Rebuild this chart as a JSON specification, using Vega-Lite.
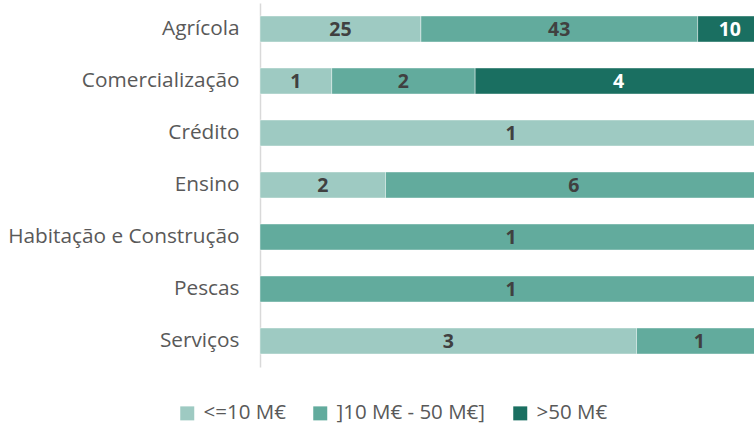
{
  "$schema": "https://vega.github.io/schema/vega-lite/v6.json",
  "width": 502,
  "height": 364,
  "autosize": {"type": "none"},
  "padding": {"left": 260, "top": 3, "right": 0, "bottom": 66},
  "background": "white",
  "config": {"view": {"stroke": null}, "font": "Open Sans"},
  "data": {
    "values": [
      {"sector": "Agrícola", "cls": "<=10 M€", "ord": 1, "n": 25},
      {"sector": "Agrícola", "cls": "]10 M€ - 50 M€]", "ord": 2, "n": 43},
      {"sector": "Agrícola", "cls": ">50 M€", "ord": 3, "n": 10},
      {"sector": "Comercialização", "cls": "<=10 M€", "ord": 1, "n": 1},
      {"sector": "Comercialização", "cls": "]10 M€ - 50 M€]", "ord": 2, "n": 2},
      {"sector": "Comercialização", "cls": ">50 M€", "ord": 3, "n": 4},
      {"sector": "Crédito", "cls": "<=10 M€", "ord": 1, "n": 1},
      {"sector": "Ensino", "cls": "<=10 M€", "ord": 1, "n": 2},
      {"sector": "Ensino", "cls": "]10 M€ - 50 M€]", "ord": 2, "n": 6},
      {"sector": "Habitação e Construção", "cls": "]10 M€ - 50 M€]", "ord": 2, "n": 1},
      {"sector": "Pescas", "cls": "]10 M€ - 50 M€]", "ord": 2, "n": 1},
      {"sector": "Serviços", "cls": "<=10 M€", "ord": 1, "n": 3},
      {"sector": "Serviços", "cls": "]10 M€ - 50 M€]", "ord": 2, "n": 1}
    ]
  },
  "transform": [
    {"stack": "n", "groupby": ["sector"], "sort": [{"field": "ord", "order": "ascending"}], "offset": "normalize", "as": ["x0", "x1"]},
    {"calculate": "(datum.x0 + datum.x1) / 2", "as": "xm"}
  ],
  "encoding": {
    "y": {
      "field": "sector", "type": "nominal",
      "sort": ["Agrícola", "Comercialização", "Crédito", "Ensino", "Habitação e Construção", "Pescas", "Serviços"],
      "scale": {"paddingInner": 0.5, "paddingOuter": 0.25},
      "axis": {"title": null, "ticks": false, "domainColor": "#d9d9d9", "domainWidth": 1.5, "labelFontSize": 20.8, "labelColor": "#595959", "labelPadding": 21, "labelLimit": 300, "labelFont": "Open Sans"}
    }
  },
  "layer": [
    {
      "mark": {"type": "bar", "stroke": "white", "strokeWidth": 0.7, "strokeOpacity": 0.6},
      "encoding": {
        "x": {"field": "x0", "type": "quantitative", "scale": {"domain": [0, 1]}, "axis": null},
        "x2": {"field": "x1"},
        "color": {
          "field": "cls", "type": "nominal",
          "scale": {"domain": ["<=10 M€", "]10 M€ - 50 M€]", ">50 M€"], "range": ["#9ecac2", "#62ab9d", "#1a6f61"]},
          "legend": {"title": null, "orient": "none", "direction": "horizontal", "legendX": -83, "legendY": 400, "symbolType": "square", "symbolSize": 196, "symbolStrokeWidth": 0, "labelFontSize": 20.5, "labelColor": "#595959", "columnPadding": 24, "labelOffset": 6, "labelFont": "Open Sans", "labelLimit": 300}
        }
      }
    },
    {
      "mark": {"type": "text", "fontWeight": "bold", "fontSize": 19.5, "baseline": "middle", "dy": 1, "font": "Open Sans"},
      "encoding": {
        "x": {"field": "xm", "type": "quantitative"},
        "text": {"field": "n", "type": "quantitative"},
        "color": {
          "condition": {"test": "datum.ord === 3", "value": "white"},
          "value": "#404040"
        }
      }
    }
  ]
}
